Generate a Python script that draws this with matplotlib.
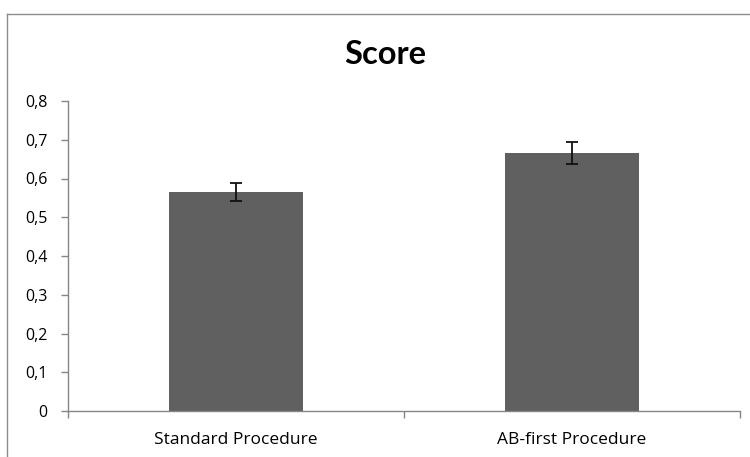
import matplotlib.pyplot as plt
from matplotlib.lines import Line2D
from matplotlib.ticker import FuncFormatter

categories = ['Standard Procedure', 'AB-first Procedure']
scores = [0.565, 0.665]
errors = [0.023, 0.028]
yticks = [0, 0.1, 0.2, 0.3, 0.4, 0.5, 0.6, 0.7, 0.8]

plt.rcParams['font.family'] = ['Open Sans', 'DejaVu Sans']

fig = plt.figure(figsize=(7.5, 4.57), dpi=100)
ax = fig.add_axes([68 / 750, 46 / 457, 672 / 750, 310 / 457])

x = list(range(len(categories)))
ax.bar(x, scores, width=0.4, color='#606060', zorder=2)
ax.errorbar(x, scores, yerr=errors, fmt='none', ecolor='#111111',
            elinewidth=1.3, capsize=4, capthick=1.3, zorder=3)

ax.set_xlim(-0.5, len(categories) - 0.5)
ax.set_ylim(0, 0.8)
ax.set_yticks(yticks)
ax.yaxis.set_major_formatter(FuncFormatter(lambda v, p: ('%g' % round(v, 1)).replace('.', ',')))

# category boundaries as major ticks, labels on minor ticks
ax.set_xticks([i - 0.5 for i in range(len(categories) + 1)])
ax.set_xticklabels([])
ax.set_xticks(x, minor=True)
ax.set_xticklabels(categories, minor=True)
ax.tick_params(axis='x', which='minor', length=0, pad=15, labelsize=12.5)
ax.tick_params(axis='x', which='major', length=5, color='#868686', width=1)
ax.tick_params(axis='y', length=5, color='#868686', width=1, labelsize=11.5, pad=10)

for side in ['top', 'right']:
    ax.spines[side].set_visible(False)
for side in ['left', 'bottom']:
    ax.spines[side].set_color('#868686')
    ax.spines[side].set_linewidth(1)

fig.text(385 / 750, 1 - 54 / 457, 'Score', family=['Lato', 'DejaVu Sans'],
         fontsize=23.5, fontweight='bold', ha='center', va='center')

# outer chart frame (cropped on right and bottom)
fig.add_artist(Line2D([7 / 750, 7 / 750], [0, 443 / 457], color='#8c8c8c', lw=1))
fig.add_artist(Line2D([7 / 750, 1], [443 / 457, 443 / 457], color='#8c8c8c', lw=1))

fig.savefig('out.png', dpi=100)
